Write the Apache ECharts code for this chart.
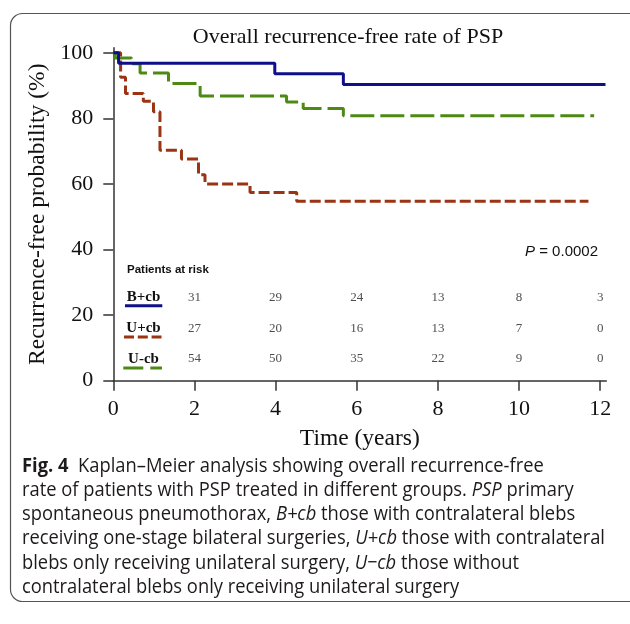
<!DOCTYPE html>
<html lang="en">
<head>
    <meta charset="UTF-8">
    <title>Overall recurrence-free rate of PSP</title>
    <script src="https://cdn.jsdelivr.net/npm/echarts@6/dist/echarts.min.js"></script>
    <style>
        html, body { margin: 0; padding: 0; background: #fff; }
        #main { width: 630px; height: 624px; }
    </style>
</head>
<body>
<div id="main"></div>
<script type="text/javascript">
    // Kaplan-Meier steps: time (years) and recurrence-free probability (%)
    const bcbTime = [0, 0.13, 3.98, 5.67, 12.13];
    const bcbRate = [100, 96.8, 93.6, 90.3, 90.3];

    const ucbTime = [0, 0.18, 0.30, 0.74, 0.99, 1.15, 1.68, 2.10, 2.26, 3.37, 4.52, 11.71];
    const ucbRate = [100, 92.5, 87.6, 85.2, 82.0, 70.3, 67.6, 62.8, 60.0, 57.4, 54.7, 54.7];

    const noCbTime = [0, 0.05, 0.45, 0.66, 1.36, 2.14, 4.27, 4.68, 5.67, 11.85];
    const noCbRate = [100, 98.4, 96.6, 93.8, 90.6, 86.8, 85.0, 83.0, 80.8, 80.8];

    // patients at risk
    const riskTimes = [2, 4, 6, 8, 10, 12];
    const riskBcb = [31, 29, 24, 13, 8, 3];
    const riskUcb = [27, 20, 16, 13, 7, 0];
    const riskNoCb = [54, 50, 35, 22, 9, 0];

    const xTicks = [0, 2, 4, 6, 8, 10, 12];
    const yTicks = [0, 20, 40, 60, 80, 100];

    const serif = 'Liberation Serif';
    const blue = '#0e108a', brown = '#9a3412', green = '#4d8a14';

    function pairs(t, v) {
        return t.map(function (x, i) { return [x, v[i]]; });
    }

    // rows of the risk table, in axis units
    const rowLevel = [25.4, 16.0, 6.6];
    function riskRow(counts, level) {
        return riskTimes.map(function (t, i) { return [t, level, counts[i]]; });
    }

    function riskSeries(counts, level) {
        return {
            type: 'scatter',
            data: riskRow(counts, level),
            symbolSize: 1,
            itemStyle: { color: 'rgba(0,0,0,0)' },
            silent: true,
            label: {
                show: true,
                position: 'inside',
                formatter: function (p) { return p.value[2]; },
                fontFamily: serif,
                fontSize: 13,
                color: '#222'
            }
        };
    }

    // caption, condensed to the width of the printed figure
    const capFont = 'Open Sans';
    const capSize = 20;
    const capLines = [
        '{b|Fig. 4}  Kaplan–Meier analysis showing overall recurrence-free',
        'rate of patients with PSP treated in different groups. {i|PSP} primary',
        'spontaneous pneumothorax, {i|B+cb} those with contralateral blebs',
        'receiving one-stage bilateral surgeries, {i|U+cb} those with contralateral',
        'blebs only receiving unilateral surgery, {i|U−cb} those without',
        'contralateral blebs only receiving unilateral surgery'
    ];
    const ctx = document.createElement('canvas').getContext('2d');
    ctx.font = capSize + 'px "' + capFont + '"';
    const capScale = 585 / ctx.measureText('receiving one-stage bilateral surgeries, U+cb those with contralateral').width;

    const graphics = [
        {
            type: 'rect',
            shape: { x: 10.5, y: 13.5, width: 700, height: 588, r: 12 },
            style: { fill: 'none', stroke: '#555', lineWidth: 1.2 },
            silent: true
        },
        {
            type: 'text', x: 348, y: 37,
            style: { text: 'Overall recurrence-free rate of PSP', font: '22px "' + serif + '"',
                fill: '#111', align: 'center', verticalAlign: 'middle' }
        },
        {
            type: 'text', x: 598, y: 252,
            style: { text: '{i|P} = 0.0002', fontFamily: 'Liberation Sans', fontSize: 15, fill: '#111',
                align: 'right', verticalAlign: 'middle',
                rich: { i: { fontStyle: 'italic', fontFamily: 'Liberation Sans', fontSize: 15 } } }
        },
        {
            type: 'text', x: 127, y: 270,
            style: { text: 'Patients at risk', font: 'bold 11.5px "Liberation Sans"', fill: '#111',
                align: 'left', verticalAlign: 'middle' }
        },
        {
            type: 'text', x: 143.5, y: 297.3,
            style: { text: 'B+cb', font: 'bold 15px "' + serif + '"', fill: '#111', align: 'center', verticalAlign: 'middle' }
        },
        {
            type: 'text', x: 143.5, y: 328.3,
            style: { text: 'U+cb', font: 'bold 15px "' + serif + '"', fill: '#111', align: 'center', verticalAlign: 'middle' }
        },
        {
            type: 'text', x: 143.5, y: 359,
            style: { text: 'U-cb', font: 'bold 15px "' + serif + '"', fill: '#111', align: 'center', verticalAlign: 'middle' }
        },
        {
            type: 'line', shape: { x1: 125, y1: 305.7, x2: 162.3, y2: 305.7 },
            style: { stroke: blue, lineWidth: 3 }
        },
        {
            type: 'line', shape: { x1: 124, y1: 337, x2: 161.5, y2: 337 },
            style: { stroke: brown, lineWidth: 3, lineDash: [10, 3.8] }
        },
        {
            type: 'line', shape: { x1: 123.3, y1: 368, x2: 162, y2: 368 },
            style: { stroke: green, lineWidth: 3, lineDash: [20, 7] }
        }
    ];

    capLines.forEach(function (line, i) {
        graphics.push({
            type: 'text', x: 22, y: 466 + i * 24.2, scaleX: capScale,
            style: {
                text: line, fontFamily: capFont, fontSize: capSize, fill: '#1e1a1b',
                align: 'left', verticalAlign: 'middle',
                rich: {
                    b: { fontWeight: 'bold', fontFamily: capFont, fontSize: capSize },
                    i: { fontStyle: 'italic', fontFamily: capFont, fontSize: capSize }
                }
            }
        });
    });

    const axisCommon = {
        type: 'value',
        splitLine: { show: false },
        axisLine: { show: true, onZero: false, lineStyle: { color: '#333', width: 1.5 } },
        nameLocation: 'middle',
        nameTextStyle: { fontFamily: serif, fontSize: 23.5, color: '#111' }
    };

    const chart = echarts.init(document.getElementById('main'), null, { renderer: 'canvas' });
    chart.setOption({
        animation: false,
        backgroundColor: '#fff',
        grid: { left: 113.3, top: 47.8, width: 493, height: 332.9 },
        xAxis: Object.assign({}, axisCommon, {
            min: 0, max: 12.15,
            name: 'Time (years)', nameGap: 46,
            axisTick: { show: true, length: 10, customValues: xTicks, lineStyle: { color: '#333', width: 1.5 } },
            axisLabel: { customValues: xTicks, margin: 18, fontFamily: serif, fontSize: 22, color: '#111',
                formatter: function (v) { return xTicks.indexOf(v) >= 0 ? String(v) : ''; } }
        }),
        yAxis: Object.assign({}, axisCommon, {
            min: 0, max: 101.5,
            name: 'Recurrence-free probability (%)', nameGap: 57,
            axisTick: { show: true, length: 10, customValues: yTicks, lineStyle: { color: '#333', width: 1.5 } },
            axisLabel: { customValues: yTicks, margin: 20, fontFamily: serif, fontSize: 22, color: '#111',
                formatter: function (v) { return yTicks.indexOf(v) >= 0 ? String(v) : ''; } }
        }),
        series: [
            {
                name: 'B+cb', type: 'line', step: 'end', symbol: 'none',
                data: pairs(bcbTime, bcbRate),
                lineStyle: { color: blue, width: 3 }, z: 4
            },
            {
                name: 'U+cb', type: 'line', step: 'end', symbol: 'none',
                data: pairs(ucbTime, ucbRate),
                lineStyle: { color: brown, width: 3, type: [11, 4] }, z: 3
            },
            {
                name: 'U-cb', type: 'line', step: 'end', symbol: 'none',
                data: pairs(noCbTime, noCbRate),
                lineStyle: { color: green, width: 3, type: [24, 6] }, z: 3
            },
            riskSeries(riskBcb, rowLevel[0]),
            riskSeries(riskUcb, rowLevel[1]),
            riskSeries(riskNoCb, rowLevel[2])
        ],
        graphic: graphics
    });
</script>
</body>
</html>
